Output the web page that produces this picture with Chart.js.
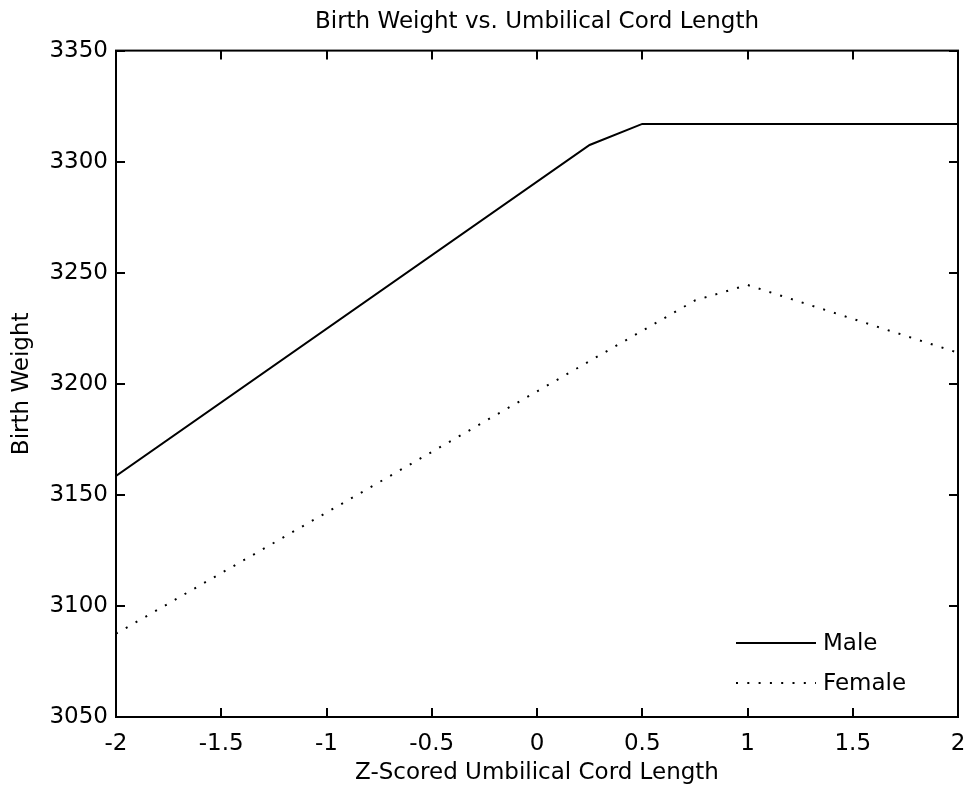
<!DOCTYPE html>
<html>
<head>
<meta charset="utf-8">
<script src="https://cdn.jsdelivr.net/npm/chart.js@4/dist/chart.umd.min.js"></script>
<style>
  html, body { margin: 0; padding: 0; background: #fff; }
  #wrap { width: 969px; height: 794px; }
</style>
</head>
<body>
<div id="wrap"><canvas id="bwChart" width="969" height="794"></canvas></div>
<script>
// values
const maleX = [-2, 0.25, 0.5, 2];
const maleY = [3158.5, 3307.5, 3317, 3317];
const femaleX = [-2, 0.75, 1, 2];
const femaleY = [3087.5, 3237.5, 3244.5, 3214];
const xTicks = [-2, -1.5, -1, -0.5, 0, 0.5, 1, 1.5, 2];
const yTicks = [3050, 3100, 3150, 3200, 3250, 3300, 3350];

const FONT = "'DejaVu Sans', Verdana, sans-serif";
const FSIZE = 23;

function toPoints(xs, ys) {
  return xs.map((x, i) => ({ x: x, y: ys[i] }));
}

// box round the axes, with inward tick marks on all four sides (matlab style)
const boxPlugin = {
  id: "boxPlugin",
  afterDatasetsDraw(chart) {
    const { ctx, chartArea: a, scales } = chart;
    const len = 9;
    ctx.save();
    ctx.strokeStyle = "#000";
    ctx.lineWidth = 2;
    ctx.strokeRect(a.left, a.top, a.right - a.left, a.bottom - a.top);
    ctx.beginPath();
    xTicks.forEach((v) => {
      const px = Math.round(scales.x.getPixelForValue(v));
      ctx.moveTo(px, a.bottom); ctx.lineTo(px, a.bottom - len);
      ctx.moveTo(px, a.top); ctx.lineTo(px, a.top + len);
    });
    yTicks.forEach((v) => {
      const py = Math.round(scales.y.getPixelForValue(v));
      ctx.moveTo(a.left, py); ctx.lineTo(a.left + len, py);
      ctx.moveTo(a.right, py); ctx.lineTo(a.right - len, py);
    });
    ctx.stroke();
    ctx.restore();
  }
};

// legend sits inside the plot, bottom right, no frame
const innerLegend = {
  id: "innerLegend",
  afterDatasetsDraw(chart) {
    const { ctx, chartArea: a } = chart;
    ctx.save();
    ctx.font = FSIZE + "px " + FONT;
    ctx.fillStyle = "#000";
    ctx.textBaseline = "middle";
    chart.data.datasets.forEach((ds, i) => {
      const y = a.bottom - 74 + i * 40;
      ctx.strokeStyle = ds.borderColor;
      ctx.lineWidth = ds.borderWidth;
      ctx.setLineDash(ds.borderDash || []);
      ctx.beginPath();
      ctx.moveTo(a.right - 222, y);
      ctx.lineTo(a.right - 142, y);
      ctx.stroke();
      ctx.setLineDash([]);
      ctx.fillText(ds.label, a.right - 135, y + 1);
    });
    ctx.restore();
  }
};

new Chart(document.getElementById("bwChart"), {
  type: "line",
  data: {
    datasets: [
      {
        label: "Male",
        data: toPoints(maleX, maleY),
        borderColor: "#000",
        borderWidth: 2,
        pointRadius: 0,
        tension: 0,
        fill: false
      },
      {
        label: "Female",
        data: toPoints(femaleX, femaleY),
        borderColor: "#000",
        borderWidth: 2,
        borderDash: [2, 9.3],
        pointRadius: 0,
        tension: 0,
        fill: false
      }
    ]
  },
  options: {
    responsive: false,
    animation: false,
    layout: { padding: { left: 0, right: 11, top: 0, bottom: 0 } },
    plugins: {
      legend: { display: false },
      tooltip: { enabled: false },
      title: {
        display: true,
        fullSize: false, // centre over the plot, not the canvas
        text: "Birth Weight vs. Umbilical Cord Length",
        color: "#000",
        font: { family: FONT, size: FSIZE, weight: "normal" },
        padding: { top: 8, bottom: 15 }
      }
    },
    scales: {
      x: {
        type: "linear",
        min: -2,
        max: 2,
        grid: { display: false, drawTicks: false },
        border: { display: false },
        afterBuildTicks(scale) {
          scale.ticks = xTicks.map((v) => ({ value: v }));
        },
        afterFit(scale) {
          scale.height = 77;
          scale.paddingLeft = 0;
          scale.paddingRight = 0;
        },
        ticks: {
          color: "#000",
          padding: 13,
          maxRotation: 0,
          autoSkip: false,
          font: { family: FONT, size: FSIZE },
          callback: (v) => String(v)
        },
        title: {
          display: true,
          text: "Z-Scored Umbilical Cord Length",
          color: "#000",
          font: { family: FONT, size: FSIZE },
          padding: { top: 7, bottom: 7 }
        }
      },
      y: {
        type: "linear",
        min: 3050,
        max: 3350,
        grid: { display: false, drawTicks: false },
        border: { display: false },
        afterBuildTicks(scale) {
          scale.ticks = yTicks.map((v) => ({ value: v }));
        },
        afterFit(scale) {
          scale.width = 116;
          scale.paddingTop = 0;
          scale.paddingBottom = 0;
        },
        ticks: {
          color: "#000",
          padding: 8,
          autoSkip: false,
          font: { family: FONT, size: FSIZE },
          callback: (v) => String(v)
        },
        title: {
          display: true,
          text: "Birth Weight",
          color: "#000",
          font: { family: FONT, size: FSIZE },
          padding: { top: 8, bottom: 8 }
        }
      }
    }
  },
  plugins: [boxPlugin, innerLegend]
});
</script>
</body>
</html>
